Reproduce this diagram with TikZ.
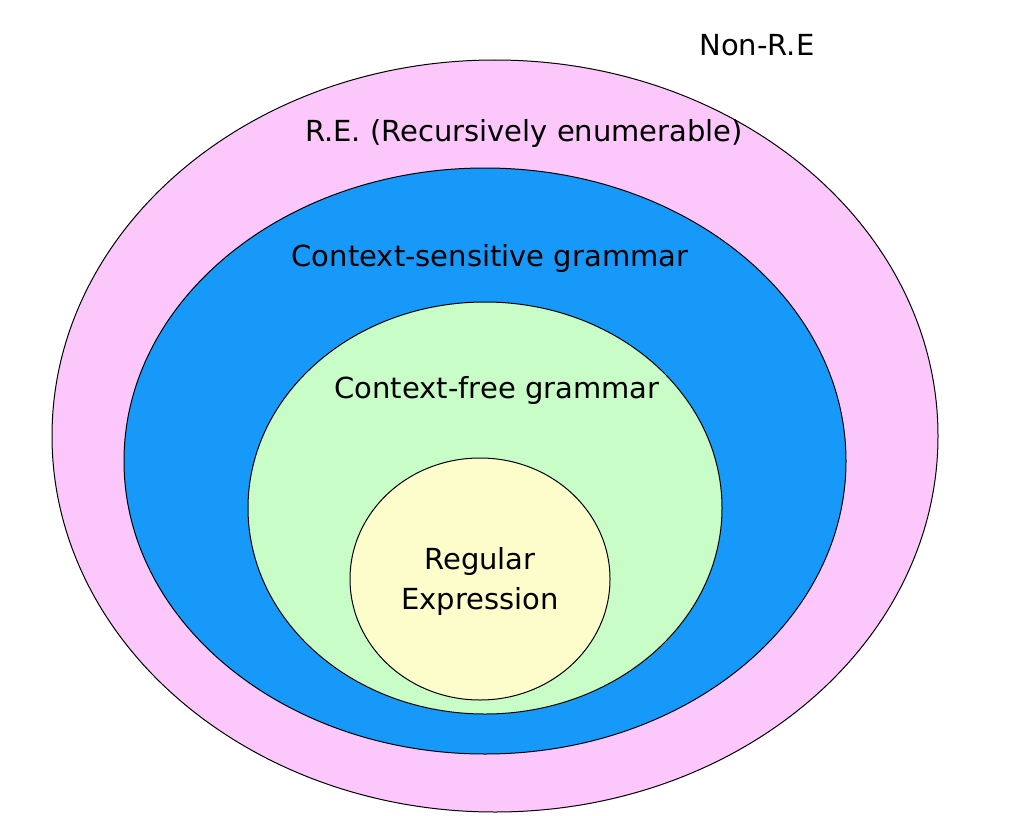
\documentclass[tikz,border=0pt]{standalone}
\usepackage{fontspec}
\setmainfont{DejaVu Sans}
\definecolor{pinkfill}{HTML}{FCC8FC}
\definecolor{bluefill}{HTML}{1799FA}
\definecolor{greenfill}{HTML}{C8FDC8}
\definecolor{yellowfill}{HTML}{FDFDCC}
\begin{document}
\begin{tikzpicture}[x=1pt,y=-1pt,
  region/.style={draw=black,line width=1pt},
  lbl/.style={font=\fontsize{29}{34}\selectfont,inner sep=0pt,text=black}]
\useasboundingbox (0,0) rectangle (1009,816);
\fill[white] (0,0) rectangle (1009,816);
\draw[region,fill=pinkfill] (495,436) ellipse [x radius=443, y radius=376];
\draw[region,fill=bluefill] (485,461) ellipse [x radius=361, y radius=293];
\draw[region,fill=greenfill] (485,508) ellipse [x radius=237, y radius=206];
\draw[region,fill=yellowfill] (480,579) ellipse [x radius=130, y radius=121];
\node[lbl] (nonre) at (757,45) {Non-R.E};
\node[lbl] (re) at (524,133) {R.E. (Recursively enumerable)};
\node[lbl] (csg) at (490,258) {Context-sensitive grammar};
\node[lbl] (cfg) at (497,390) {Context-free grammar};
\node[lbl,align=center,font=\fontsize{29}{40}\selectfont] (reg) at (480,581) {Regular\\Expression};
\end{tikzpicture}
\end{document}
